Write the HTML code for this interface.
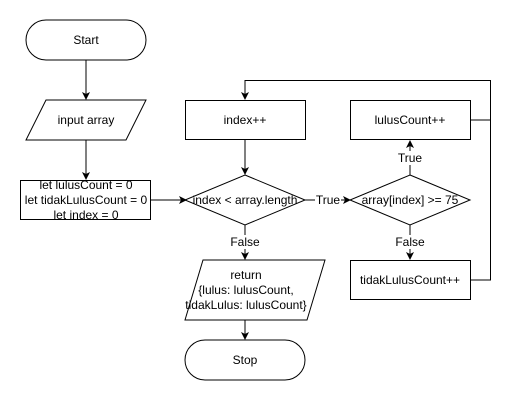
<!DOCTYPE html>
<html><head><style>body{margin:0;background:#fff}</style></head><body>
<svg width="519" height="402" xmlns="http://www.w3.org/2000/svg" font-family="Liberation Sans, Arial, sans-serif" font-size="12">
<defs><marker id="a" markerWidth="8" markerHeight="8" refX="7" refY="4" orient="auto" markerUnits="userSpaceOnUse"><path d="M0,0 L8,4 L0,8 L2,4 z" fill="#000"/></marker></defs>
<rect width="519" height="402" fill="#fff"/>
<g fill="#fff" stroke="#000" stroke-width="1">
<rect x="26" y="20" width="120" height="40" rx="20"/>
<polygon points="46,100 146,100 126,140 26,140"/>
<rect x="20.5" y="180.5" width="130" height="39"/>
<rect x="185.5" y="100.5" width="120" height="39"/>
<polygon points="245,175 305,200 245,225 185,200"/>
<rect x="350.5" y="100.5" width="120" height="39"/>
<polygon points="410,175 470,200 410,225 350,200"/>
<rect x="350.5" y="260.5" width="120" height="39"/>
<polygon points="203,260 325,260 307,320 185,320"/>
<rect x="185" y="340" width="120" height="40" rx="20"/>
</g>
<g stroke="#000" fill="none" stroke-width="1">
<line x1="86" y1="60" x2="86" y2="99" marker-end="url(#a)"/>
<line x1="86" y1="140" x2="86" y2="179" marker-end="url(#a)"/>
<line x1="151" y1="200" x2="186" y2="200" marker-end="url(#a)"/>
<line x1="245" y1="140" x2="245" y2="174" marker-end="url(#a)"/>
<line x1="305" y1="200" x2="350" y2="200" marker-end="url(#a)"/>
<line x1="410" y1="175" x2="410" y2="141" marker-end="url(#a)"/>
<line x1="410" y1="225" x2="410" y2="259" marker-end="url(#a)"/>
<line x1="245" y1="225" x2="245" y2="259" marker-end="url(#a)"/>
<line x1="245" y1="320" x2="245" y2="339" marker-end="url(#a)"/>
<polyline points="470,120 490.5,120"/>
<polyline points="470,280 490.5,280 490.5,80.5 245,80.5 245,99" marker-end="url(#a)"/>
</g>
<g text-anchor="middle" fill="#000">
<text x="86" y="44">Start</text>
<text x="86" y="124">input array</text>
<text x="86" y="189">let lulusCount = 0</text>
<text x="86" y="204">let tidakLulusCount = 0</text>
<text x="86" y="219">let index = 0</text>
<text x="245" y="124">index++</text>
<text x="245" y="204">index &lt; array.length</text>
<text x="410" y="124">lulusCount++</text>
<text x="410" y="204">array[index] &gt;= 75</text>
<text x="410" y="284">tidakLulusCount++</text>
<text x="246" y="279">return</text>
<text x="246" y="294">{lulus: lulusCount,</text>
<text x="246" y="309">tidakLulus: lulusCount}</text>
<text x="245" y="364">Stop</text>
</g>
<g text-anchor="middle" fill="#000">
<rect x="315" y="193" width="26" height="14" fill="#fff"/><text x="328" y="204">True</text>
<rect x="396" y="151" width="28" height="14" fill="#fff"/><text x="410" y="162">True</text>
<rect x="393" y="235" width="34" height="14" fill="#fff"/><text x="410" y="246">False</text>
<rect x="228" y="235" width="34" height="14" fill="#fff"/><text x="245" y="246">False</text>
</g>
</svg>
</body></html>
